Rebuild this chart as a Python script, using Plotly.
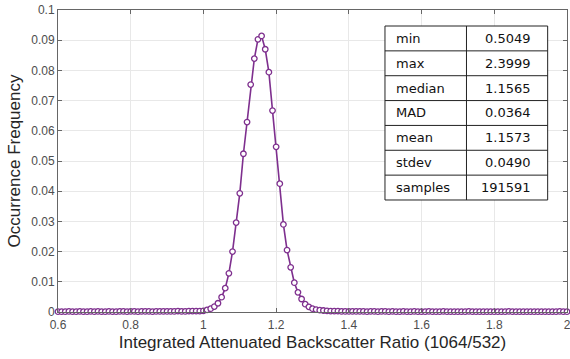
import plotly.graph_objects as go

# Bin centres (0.60 .. 2.00, step 0.01)
bin_start = 0.60
bin_step = 0.01
freq = [
    # 0.60-0.69
    0.0001, 0.0001, 0.0001, 0.0002, 0.0001, 0.0001, 0.0002, 0.0001, 0.0001, 0.0002,
    # 0.70-0.79
    0.0001, 0.0002, 0.0001, 0.0001, 0.0002, 0.0001, 0.0001, 0.0002, 0.0002, 0.0001,
    # 0.80-0.89
    0.0002, 0.0002, 0.0001, 0.0002, 0.0002, 0.0002, 0.0001, 0.0002, 0.0002, 0.0002,
    # 0.90-0.99
    0.0002, 0.0002, 0.0002, 0.0003, 0.0002, 0.0002, 0.0003, 0.0003, 0.0003, 0.0003,
    # 1.00-1.09
    0.0004, 0.0007, 0.0011, 0.0018, 0.0029, 0.0049, 0.0079, 0.0128, 0.0200, 0.0296,
    # 1.10-1.19
    0.0393, 0.0524, 0.0629, 0.0753, 0.0839, 0.0903, 0.0914, 0.0870, 0.0794, 0.0667,
    # 1.20-1.29
    0.0547, 0.0425, 0.0290, 0.0205, 0.0148, 0.0097, 0.0065, 0.0043, 0.0026, 0.0017,
    # 1.30-1.39
    0.0011, 0.0008, 0.0006, 0.0005, 0.0004, 0.0003, 0.0003, 0.0003, 0.0002, 0.0002,
    # 1.40-1.49
    0.0002, 0.0002, 0.0002, 0.0002, 0.0002, 0.0001, 0.0002, 0.0002, 0.0001, 0.0002,
    # 1.50-1.59
    0.0002, 0.0001, 0.0002, 0.0001, 0.0001, 0.0002, 0.0001, 0.0001, 0.0002, 0.0001,
    # 1.60-1.69
    0.0001, 0.0001, 0.0002, 0.0001, 0.0001, 0.0001, 0.0002, 0.0001, 0.0001, 0.0001,
    # 1.70-1.79
    0.0001, 0.0001, 0.0001, 0.0002, 0.0001, 0.0001, 0.0001, 0.0001, 0.0001, 0.0001,
    # 1.80-1.89
    0.0001, 0.0001, 0.0001, 0.0001, 0.0002, 0.0001, 0.0001, 0.0001, 0.0001, 0.0001,
    # 1.90-2.00
    0.0001, 0.0001, 0.0001, 0.0001, 0.0001, 0.0001, 0.0001, 0.0001, 0.0002, 0.0001, 0.0001,
]
ratio = [round(bin_start + bin_step * i, 2) for i in range(len(freq))]

stat_names = ["min", "max", "median", "MAD", "mean", "stdev", "samples"]
stat_values = ["0.5049", "2.3999", "1.1565", "0.0364", "1.1573", "0.0490", "191591"]

x_ticks = [0.6, 0.8, 1.0, 1.2, 1.4, 1.6, 1.8, 2.0]
x_ticktext = ["0.6", "0.8", "1", "1.2", "1.4", "1.6", "1.8", "2"]
y_ticks = [0, 0.01, 0.02, 0.03, 0.04, 0.05, 0.06, 0.07, 0.08, 0.09, 0.1]
y_ticktext = ["0", "0.01", "0.02", "0.03", "0.04", "0.05", "0.06", "0.07", "0.08", "0.09", "0.1"]

purple = "#7E2F8E"

fig = go.Figure()
fig.add_trace(go.Scatter(
    x=ratio, y=freq, mode="lines+markers",
    line=dict(color=purple, width=1.6),
    marker=dict(symbol="circle", size=5.5, color="white",
                line=dict(color=purple, width=1.3)),
    cliponaxis=False, showlegend=False,
))

# Statistics table (drawn with shapes + annotations)
tbl_left, tbl_mid, tbl_right = 0.6424, 0.8025, 0.962
tbl_top, row_h = 0.947, 0.0823
n = len(stat_names)
tbl_bottom = tbl_top - row_h * n
shapes = [dict(type="rect", xref="paper", yref="paper",
               x0=tbl_left, x1=tbl_right, y0=tbl_bottom, y1=tbl_top,
               fillcolor="white", line=dict(color="#222", width=1), layer="above")]
shapes.append(dict(type="line", xref="paper", yref="paper",
                   x0=tbl_mid, x1=tbl_mid, y0=tbl_bottom, y1=tbl_top,
                   line=dict(color="#222", width=1), layer="above"))
annotations = []
for i, (name, val) in enumerate(zip(stat_names, stat_values)):
    yt = tbl_top - row_h * i
    yc = yt - row_h / 2
    if i > 0:
        shapes.append(dict(type="line", xref="paper", yref="paper",
                           x0=tbl_left, x1=tbl_right, y0=yt, y1=yt,
                           line=dict(color="#222", width=1), layer="above"))
    annotations.append(dict(xref="paper", yref="paper", x=tbl_left + 0.017, y=yc,
                            text=name, showarrow=False, xanchor="left", yanchor="middle",
                            font=dict(family="DejaVu Sans", size=13, color="#111")))
    annotations.append(dict(xref="paper", yref="paper", x=tbl_right - 0.029, y=yc,
                            text=val, showarrow=False, xanchor="right", yanchor="middle",
                            font=dict(family="DejaVu Sans", size=13, color="#111")))

axis_common = dict(
    showgrid=True, gridcolor="#e8e8e8", gridwidth=1,
    showline=True, linecolor="#666", linewidth=1, mirror="ticks",
    ticks="inside", ticklen=4, tickcolor="#666", zeroline=False,
    automargin=False,
    tickfont=dict(family="Liberation Sans", size=12, color="#4d4d4d"),
)

fig.update_layout(
    width=570, height=359,
    margin=dict(l=58, r=3, t=10, b=47),
    paper_bgcolor="white", plot_bgcolor="white",
    shapes=shapes, annotations=annotations,
    xaxis=dict(range=[0.6, 2.0], tickvals=x_ticks, ticktext=x_ticktext,
               ticklabelstandoff=2, ticklabeloverflow="allow",
               title=dict(text="Integrated Attenuated Backscatter Ratio (1064/532)",
                          font=dict(family="Liberation Sans", size=17, color="#262626"),
                          standoff=4),
               **axis_common),
    yaxis=dict(range=[0, 0.1], tickvals=y_ticks, ticktext=y_ticktext,
               title=dict(text="Occurrence Frequency",
                          font=dict(family="Liberation Sans", size=17, color="#262626"),
                          standoff=6),
               **axis_common),
)

fig.write_html("out.html")
